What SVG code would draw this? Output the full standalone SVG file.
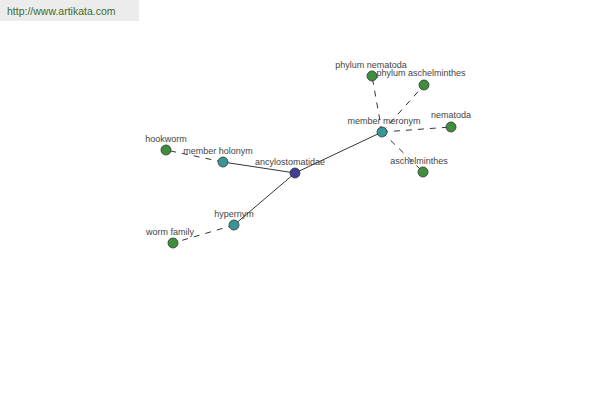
<svg xmlns="http://www.w3.org/2000/svg" width="600" height="400" viewBox="0 0 600 400">
<style>
text{font-family:"Liberation Sans",Arial,sans-serif;font-size:9px;fill:#444;text-anchor:middle}
.solid{stroke:#000;stroke-width:0.8;fill:none}
.dash{stroke:#000;stroke-width:0.8;fill:none;stroke-dasharray:6,6}
.n{stroke:#333;stroke-width:0.8}
.root{fill:#3f3f9a}
.rel{fill:#3a9696}
.leaf{fill:#3e8e3e}
</style>
<rect x="0" y="0" width="139" height="21" fill="#ececec"/>
<text x="7" y="15" style="text-anchor:start;font-size:10.5px;fill:#3d6b2a">http://www.artikata.com</text>
<g id="connectors">
<line class="solid" x1="295" y1="173" x2="223" y2="162"/>
<line class="solid" x1="295" y1="173" x2="234" y2="225"/>
<line class="solid" x1="295" y1="173" x2="382" y2="132"/>
<line class="dash" x1="223" y1="162" x2="166" y2="150"/>
<line class="dash" x1="234" y1="225" x2="173" y2="243"/>
<line class="dash" x1="382" y1="132" x2="372" y2="76"/>
<line class="dash" x1="382" y1="132" x2="424" y2="85"/>
<line class="dash" x1="382" y1="132" x2="451" y2="127"/>
<line class="dash" x1="382" y1="132" x2="423" y2="172"/>
</g>
<g id="ancylostomatidae"><circle class="n root" cx="295" cy="173" r="5"/><text x="290" y="165">ancylostomatidae</text></g>
<g id="member-holonym"><circle class="n rel" cx="223" cy="162" r="5"/><text x="218" y="154">member holonym</text></g>
<g id="hookworm"><circle class="n leaf" cx="166" cy="150" r="5"/><text x="166" y="142">hookworm</text></g>
<g id="hypernym"><circle class="n rel" cx="234" cy="225" r="5"/><text x="234" y="217">hypernym</text></g>
<g id="worm-family"><circle class="n leaf" cx="173" cy="243" r="5"/><text x="170" y="235">worm family</text></g>
<g id="member-meronym"><circle class="n rel" cx="382" cy="132" r="5"/><text x="384" y="124">member meronym</text></g>
<g id="phylum-nematoda"><circle class="n leaf" cx="372" cy="76" r="5"/><text x="371" y="68">phylum nematoda</text></g>
<g id="phylum-aschelminthes"><circle class="n leaf" cx="424" cy="85" r="5"/><text x="421" y="76">phylum aschelminthes</text></g>
<g id="nematoda"><circle class="n leaf" cx="451" cy="127" r="5"/><text x="451" y="118">nematoda</text></g>
<g id="aschelminthes"><circle class="n leaf" cx="423" cy="172" r="5"/><text x="419" y="164">aschelminthes</text></g>
</svg>
